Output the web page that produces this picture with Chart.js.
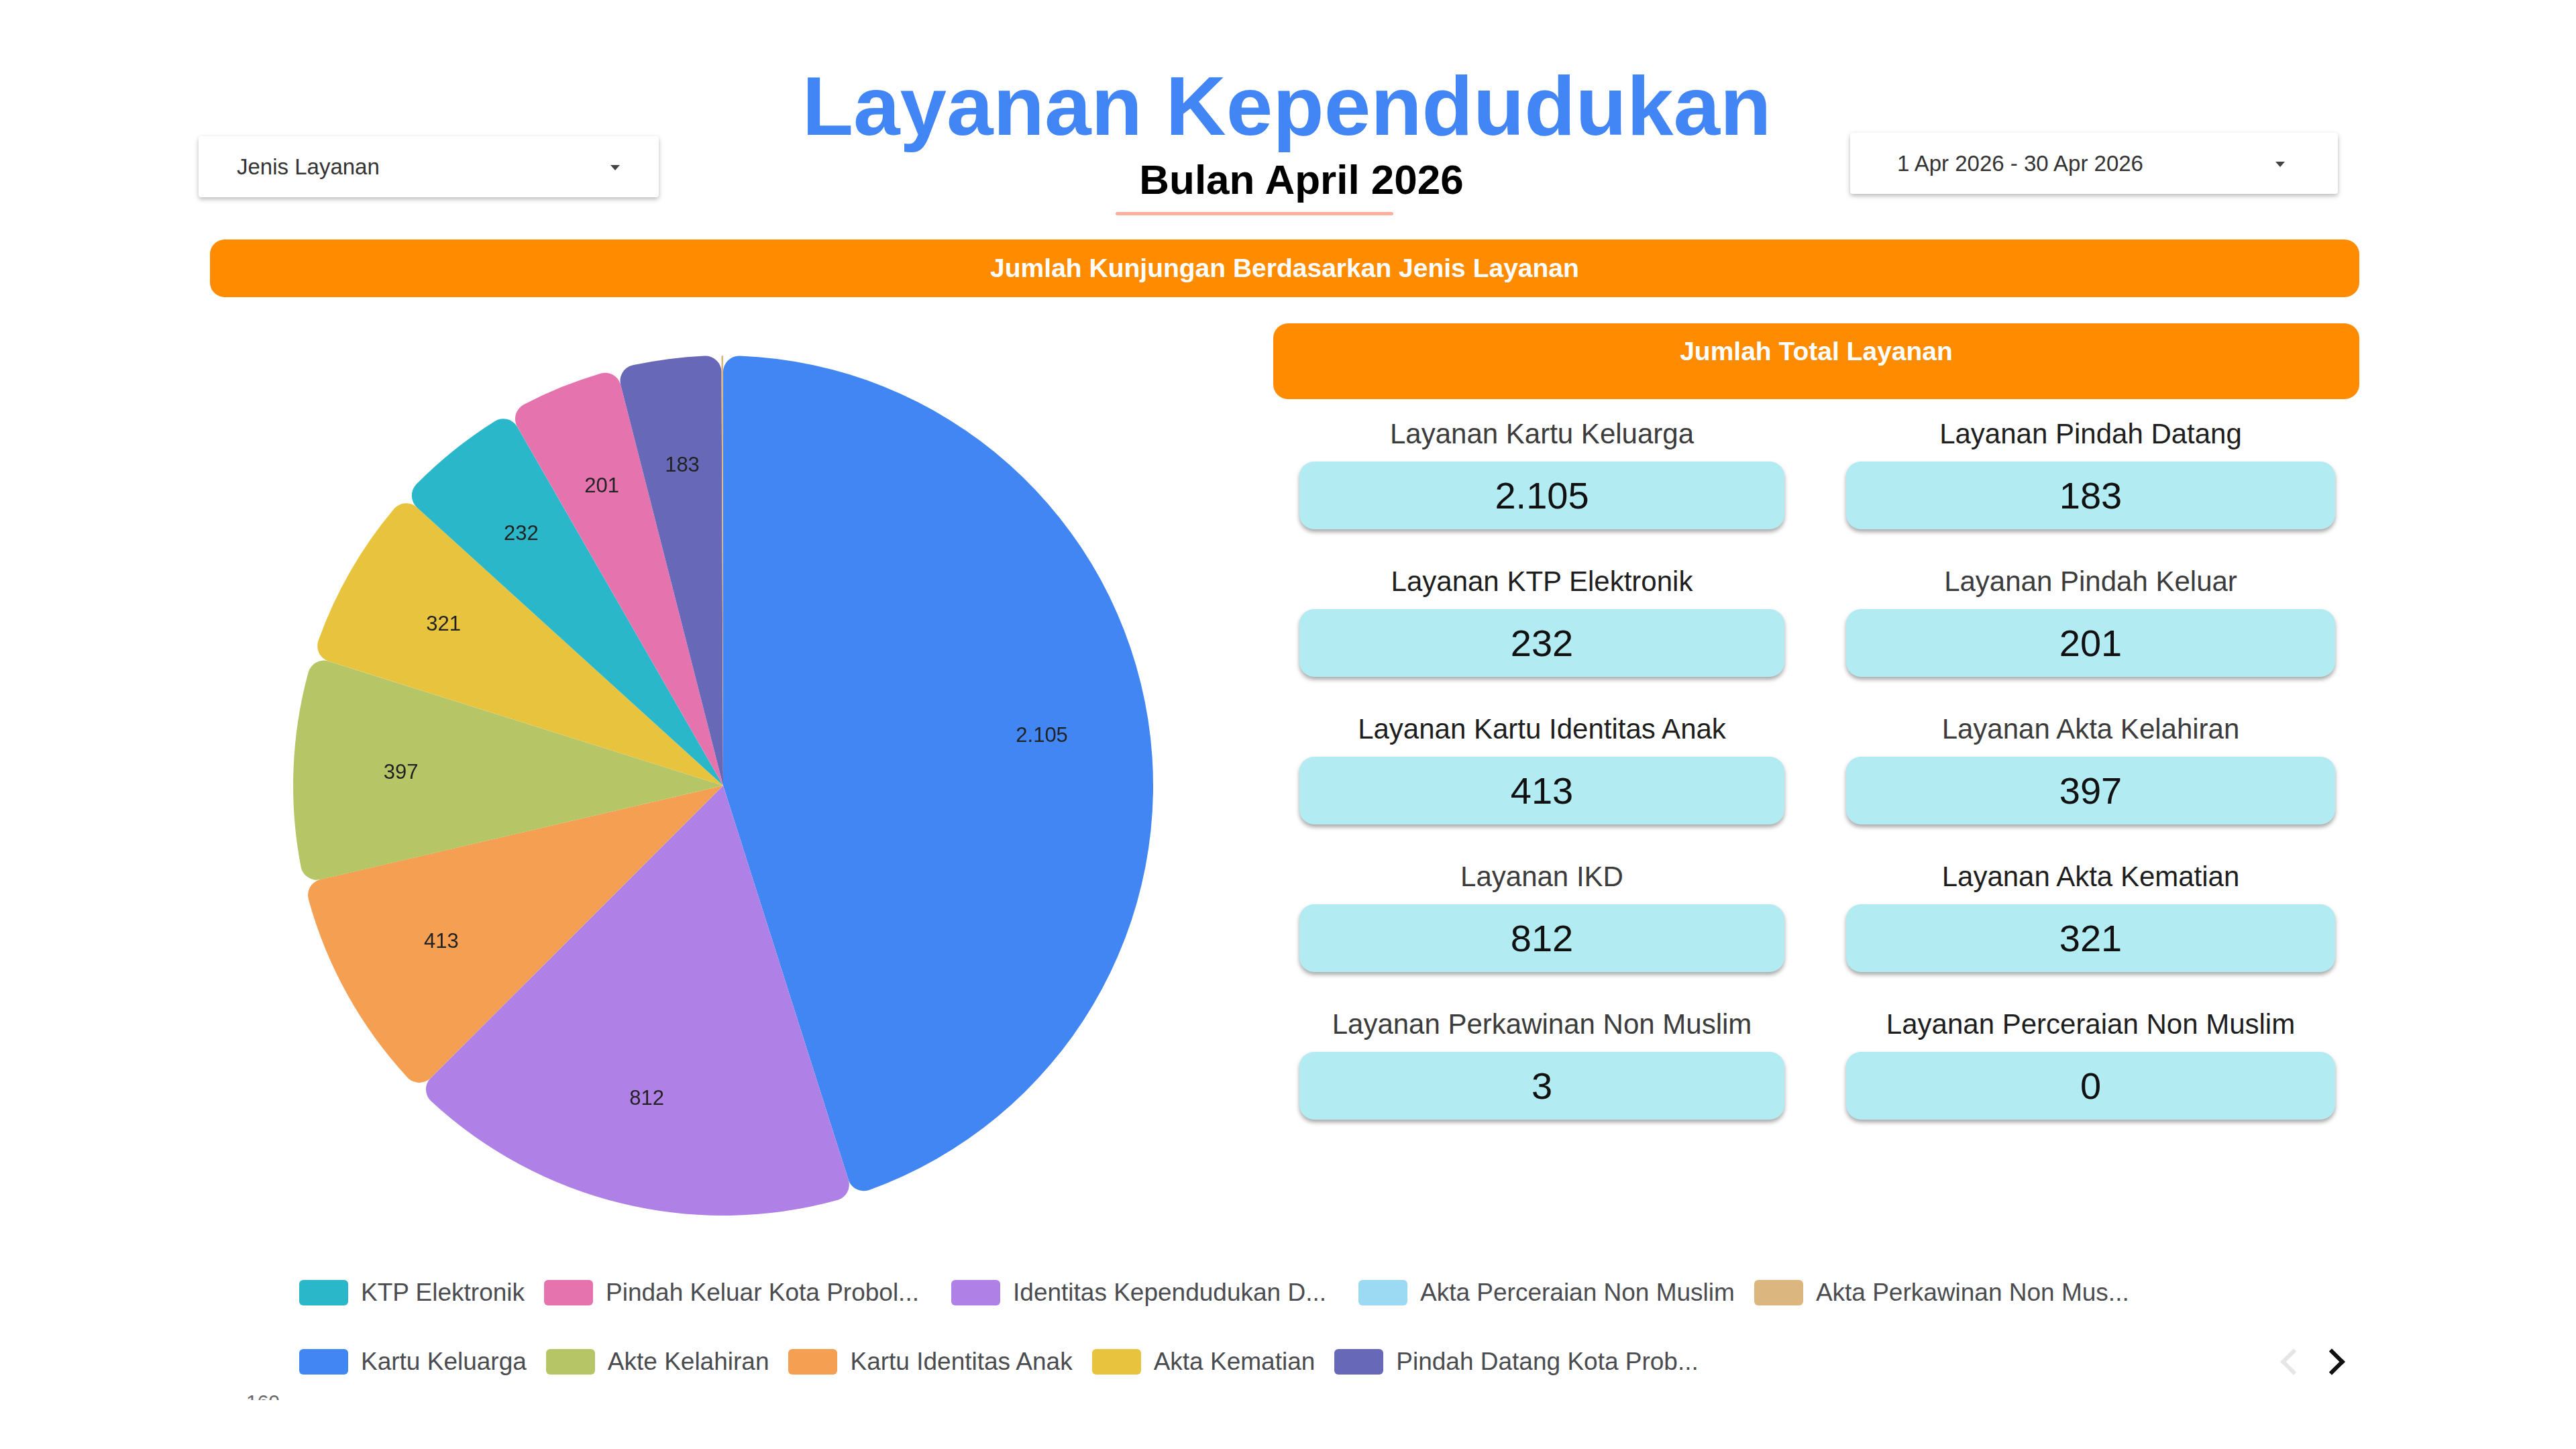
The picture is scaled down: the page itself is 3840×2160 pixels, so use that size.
<!DOCTYPE html>
<html>
<head>
<meta charset="utf-8">
<script src="https://cdn.jsdelivr.net/npm/chart.js@4.4.1/dist/chart.umd.min.js"></script>
<style>
  html, body { margin: 0; padding: 0; background: #fff; }
  body { width: 3840px; height: 2160px; position: relative; overflow: hidden; font-family: "Liberation Sans", Arial, sans-serif; }
  .abs { position: absolute; }
  .title { left: 0; width: 3836px; top: 95px; height: 125px; line-height: 125px; text-align: center; font-size: 125px; font-weight: bold; color: #4285f4; }
  .subtitle { left: 0; width: 3880px; top: 237px; height: 62px; line-height: 62px; text-align: center; font-size: 62px; font-weight: bold; color: #000; }
  .rule { left: 1663px; top: 316px; width: 414px; height: 5px; background: #fbb09b; border-radius: 3px; }
  .dropdown { background: #fff; border-radius: 4px; box-shadow: 0 3px 7px rgba(0,0,0,0.28); font-size: 33px; color: #333; }
  .dropdown span { position: absolute; top: 50%; transform: translateY(-50%); white-space: nowrap; }
  .caret { position: absolute; width: 0; height: 0; border-left: 7px solid transparent; border-right: 7px solid transparent; border-top: 8px solid #444; top: 50%; margin-top: -3px; }
  .bar { background: #ff8c00; color: #fff; font-weight: bold; font-size: 39px; text-align: center; border-radius: 22px; }
  .card-label { font-size: 42px; text-align: center; white-space: nowrap; height: 50px; line-height: 50px; }
  .card-box { background: #b2ebf2; border-radius: 22px; box-shadow: 0 4px 6px rgba(0,0,0,0.35); height: 101px; line-height: 101px; text-align: center; font-size: 56px; color: #111; }
  #legend { left: 446px; top: 1908px; width: 2900px; display: flex; flex-wrap: wrap; row-gap: 65px; }
  .li { display: flex; align-items: center; height: 38px; margin-right: 29px; }
  .li i { display: block; width: 73px; height: 38px; border-radius: 6px; }
  .li span { margin-left: 19px; font-size: 37px; line-height: 38px; color: #4a4c4f; white-space: nowrap; }
  .li span.cut { min-width: 486px; }
  .chev { width: 22px; height: 22px; border-top: 6px solid #111; border-right: 6px solid #111; }
</style>
</head>
<body>
<div class="abs title">Layanan Kependudukan</div>
<div class="abs subtitle">Bulan April 2026</div>
<div class="abs rule"></div>

<div class="abs dropdown" style="left:296px;top:203px;width:686px;height:91px;">
  <span style="left:57px;">Jenis Layanan</span>
  <div class="caret" style="left:614px;"></div>
</div>
<div class="abs dropdown" style="left:2758px;top:198px;width:727px;height:91px;">
  <span style="left:70px;">1 Apr 2026 - 30 Apr 2026</span>
  <div class="caret" style="left:634px;"></div>
</div>

<div class="abs bar" style="left:313px;top:357px;width:3204px;height:86px;line-height:86px;">Jumlah Kunjungan Berdasarkan Jenis Layanan</div>
<div class="abs bar" style="left:1898px;top:482px;width:1619px;height:113px;line-height:50px;box-sizing:border-box;padding-top:17px;">Jumlah Total Layanan</div>

<div id="cards"></div>

<div class="abs" style="left:418px;top:511px;width:1320px;height:1320px;">
  <canvas id="pie"></canvas>
</div>

<div id="legend" class="abs"></div>

<div class="abs chev" style="left:3405px;top:2016px;transform:rotate(-135deg);border-color:#e6e6e6;"></div>
<div class="abs chev" style="left:3462px;top:2016px;transform:rotate(45deg);"></div>
<div class="abs" style="left:367px;top:2078px;height:9px;width:60px;overflow:hidden;"><div style="font-size:30px;line-height:30px;color:#666;margin-top:-3px;">160</div></div>

<script>
// pie slices, clockwise from the top
var categories = [
  "Kartu Keluarga",
  "Identitas Kependudukan Digital",
  "Kartu Identitas Anak",
  "Akte Kelahiran",
  "Akta Kematian",
  "KTP Elektronik",
  "Pindah Keluar Kota Probolinggo",
  "Pindah Datang Kota Probolinggo",
  "Akta Perkawinan Non Muslim",
  "Akta Perceraian Non Muslim"
];
var visits = [2105, 812, 413, 397, 321, 232, 201, 183, 3, 0];
var sliceColors = ["#4286f4", "#af80e5", "#f49f51", "#b6c666", "#e8c33d", "#2bb7ca", "#e574ae", "#6768b8", "#dcb67f", "#9cdaf4"];

// order used by the legend below the pie, and the (cut) text it shows
var legendOrder = [
  "KTP Elektronik",
  "Pindah Keluar Kota Probolinggo",
  "Identitas Kependudukan Digital",
  "Akta Perceraian Non Muslim",
  "Akta Perkawinan Non Muslim",
  "Kartu Keluarga",
  "Akte Kelahiran",
  "Kartu Identitas Anak",
  "Akta Kematian",
  "Pindah Datang Kota Probolinggo"
];
var legendText = [
  "KTP Elektronik",
  "Pindah Keluar Kota Probol...",
  "Identitas Kependudukan D...",
  "Akta Perceraian Non Muslim",
  "Akta Perkawinan Non Mus...",
  "Kartu Keluarga",
  "Akte Kelahiran",
  "Kartu Identitas Anak",
  "Akta Kematian",
  "Pindah Datang Kota Prob..."
];

// scorecards, read left to right, top to bottom
var cardLabels = [
  "Layanan Kartu Keluarga", "Layanan Pindah Datang",
  "Layanan KTP Elektronik", "Layanan Pindah Keluar",
  "Layanan Kartu Identitas Anak", "Layanan Akta Kelahiran",
  "Layanan IKD", "Layanan Akta Kematian",
  "Layanan Perkawinan Non Muslim", "Layanan Perceraian Non Muslim"
];
var cardValues = [2105, 183, 232, 201, 413, 397, 812, 321, 3, 0];

function fmt(n) {
  return String(n).replace(/\B(?=(\d{3})+(?!\d))/g, ".");
}

// scorecards
var cardsEl = document.getElementById("cards");
var colX = [1937, 2752], colW = [723, 729];
var labelDark = [false, true, true, false, true, false, false, true, false, true];
cardLabels.forEach(function (lbl, i) {
  var col = i % 2, row = Math.floor(i / 2);
  var top = 688 + row * 220;
  var l = document.createElement("div");
  l.className = "abs card-label";
  l.style.cssText = "left:" + colX[col] + "px;width:" + colW[col] + "px;top:" + (top - 66) + "px;color:" + (labelDark[i] ? "#1e1e1e" : "#3c3c3c");
  l.textContent = lbl;
  cardsEl.appendChild(l);
  var b = document.createElement("div");
  b.className = "abs card-box";
  b.style.cssText = "left:" + colX[col] + "px;width:" + colW[col] + "px;top:" + top + "px;";
  b.textContent = fmt(cardValues[i]);
  cardsEl.appendChild(b);
});

// value labels inside the slices
var sliceLabels = {
  id: "sliceLabels",
  afterDatasetsDraw: function (chart) {
    var ctx = chart.ctx;
    var meta = chart.getDatasetMeta(0);
    var data = chart.data.datasets[0].data;
    var total = data.reduce(function (a, b) { return a + b; }, 0);
    ctx.save();
    ctx.font = "31px 'Liberation Sans', Arial, sans-serif";
    ctx.fillStyle = "#222";
    ctx.textAlign = "center";
    ctx.textBaseline = "middle";
    meta.data.forEach(function (arc, i) {
      if (data[i] / total < 0.02) return;
      var p = arc.getProps(["x", "y", "startAngle", "endAngle", "outerRadius"], true);
      var mid = (p.startAngle + p.endAngle) / 2;
      var r = p.outerRadius * 0.75;
      ctx.fillText(fmt(data[i]), p.x + Math.cos(mid) * r, p.y + Math.sin(mid) * r);
    });
    ctx.restore();
  }
};

var chart = new Chart(document.getElementById("pie"), {
  type: "pie",
  data: {
    labels: categories,
    datasets: [{
      label: "Jumlah Kunjungan",
      data: visits,
      backgroundColor: sliceColors,
      borderWidth: 0,
      borderRadius: 24
    }]
  },
  options: {
    responsive: true,
    maintainAspectRatio: false,
    animation: false,
    events: [],
    radius: 641,
    layout: { padding: 0 },
    plugins: {
      legend: { display: false },
      tooltip: { enabled: false }
    }
  },
  plugins: [sliceLabels]
});

// legend built from the chart's own legend items
var items = Chart.overrides.pie.plugins.legend.labels.generateLabels(chart);
var legendEl = document.getElementById("legend");
legendOrder.forEach(function (name, k) {
  var it = items.find(function (x) { return x.text === name; });
  var d = document.createElement("div");
  d.className = "li";
  d.innerHTML = '<i style="background:' + it.fillStyle + '"></i><span></span>';
  var s = d.querySelector("span");
  s.textContent = legendText[k];
  if (/\.\.\.$/.test(legendText[k])) s.className = "cut";
  legendEl.appendChild(d);
});
</script>
</body>
</html>
